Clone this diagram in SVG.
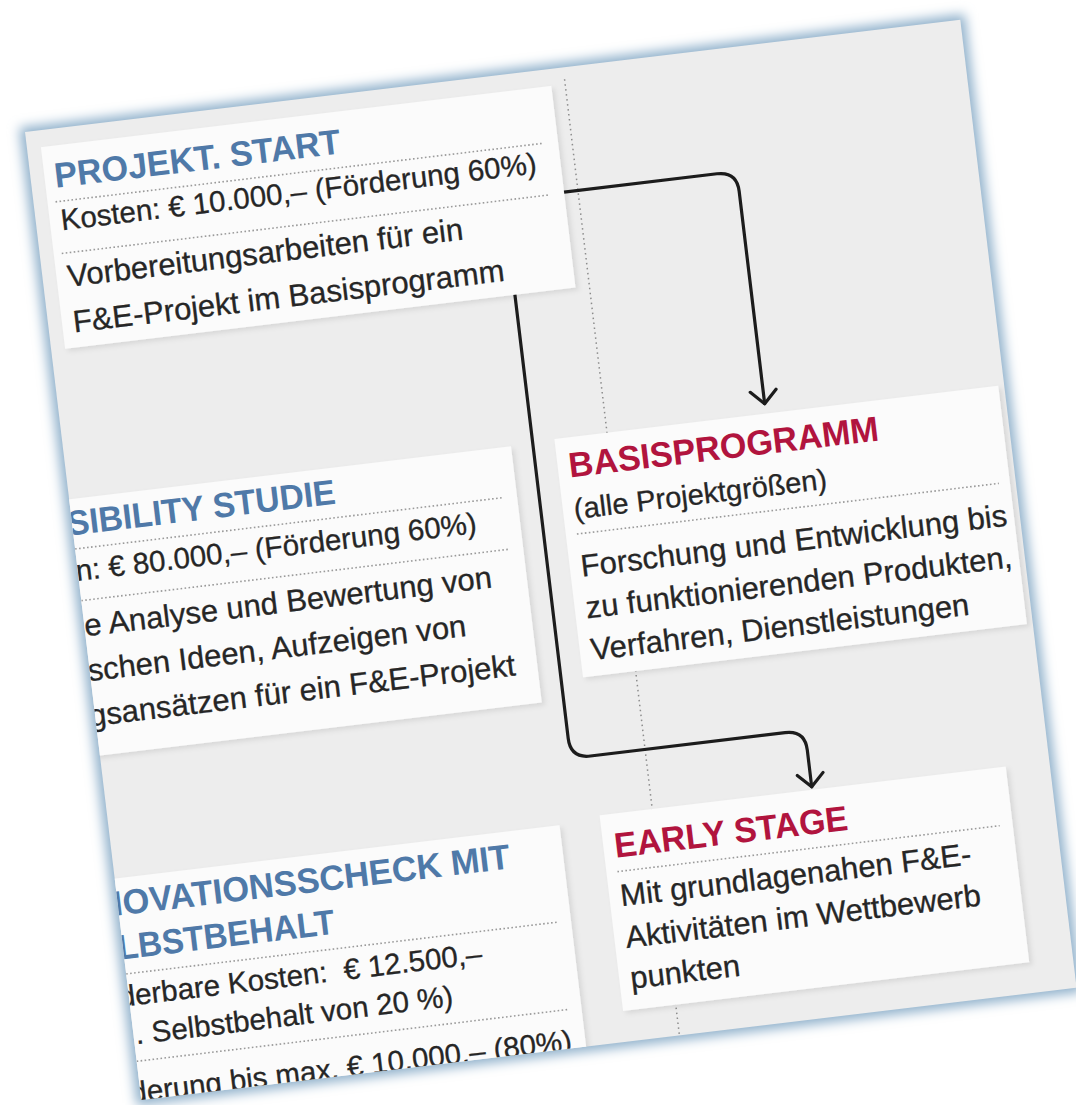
<svg xmlns="http://www.w3.org/2000/svg" width="1076" height="1105" viewBox="0 0 1076 1105">
<defs>
<style>
.page{fill:#ededed}
.box{fill:#fbfbfb;filter:url(#sh)}
.t{font-family:"Liberation Sans",Arial,sans-serif;font-weight:bold;font-size:35px}
.blue{fill:#4f79a8}
.red{fill:#b1143e}
.b{font-family:"Liberation Sans",Arial,sans-serif;font-size:31px;fill:#262626;stroke:#262626;stroke-width:0.3}
.c{font-size:29.5px}
.sep{stroke:#9a9a9a;stroke-width:1.6;stroke-dasharray:1.6 2.4;fill:none}
.grid{stroke:#8c8c8c;stroke-width:1.5;stroke-dasharray:1.5 3.5;fill:none}
.conn{fill:none;stroke:#1c1c1c;stroke-width:3.2;stroke-linejoin:round;stroke-linecap:round}
</style>
<filter id="glow" x="-5%" y="-5%" width="110%" height="110%"><feGaussianBlur stdDeviation="6"/></filter>
<filter id="sh" x="-5%" y="-5%" width="115%" height="115%"><feDropShadow dx="3" dy="3" stdDeviation="2.5" flood-color="#000" flood-opacity="0.09"/></filter>
<marker id="arr" markerUnits="userSpaceOnUse" markerWidth="40" markerHeight="40" viewBox="-20 -20 40 40" refX="0" refY="0" orient="auto"><path d="M-13,-13 L0,0 L-13,13" fill="none" stroke="#1c1c1c" stroke-width="3.2" stroke-linecap="round" stroke-linejoin="round"/></marker>
<clipPath id="pc"><rect x="0" y="0" width="942" height="975"/></clipPath>
</defs>
<rect x="0" y="0" width="1076" height="1105" fill="#ffffff"/>
<g transform="translate(25 132) rotate(-6.85)">
  <rect x="-5" y="-5" width="952" height="985" fill="#8fb0cb" filter="url(#glow)"/>
  <rect class="page" x="0" y="0" width="942" height="975"/>
  <g clip-path="url(#pc)">
    <line class="grid" x1="542" y1="12" x2="542" y2="975"/>
    <g id="connectors">
      <path class="conn" d="M528,124 H682 Q702,124 702,144 V358" marker-end="url(#arr)"/>
      <path class="conn" d="M467,220 V667 Q467,687 487,687 H683 Q703,687 703,707 V744" marker-end="url(#arr)"/>
    </g>
    <g id="projekt-start">
      <rect class="box" x="14" y="17" width="514" height="203"/>
      <text class="t blue" x="24" y="59" textLength="288" lengthAdjust="spacingAndGlyphs">PROJEKT. START</text>
      <line class="sep" x1="22" y1="73" x2="512" y2="73"/>
      <text class="b c" x="25" y="102">Kosten: € 10.000,– (Förderung 60%)</text>
      <line class="sep" x1="22" y1="125" x2="512" y2="125"/>
      <text class="b" x="25" y="159">Vorbereitungsarbeiten für ein</text>
      <text class="b" x="25" y="205">F&amp;E-Projekt im Basisprogramm</text>
    </g>
    <g id="feasibility-studie">
      <rect class="box" x="-20" y="370" width="465" height="258"/>
      <text class="t blue" x="-5" y="406" textLength="270" lengthAdjust="spacingAndGlyphs">SIBILITY STUDIE</text>
      <line class="sep" x1="0" y1="420" x2="432" y2="420"/>
      <text class="b c" x="-2" y="452">n: € 80.000,– (Förderung 60%)</text>
      <line class="sep" x1="0" y1="472" x2="432" y2="472"/>
      <text class="b" x="0" y="508">e Analyse und Bewertung von</text>
      <text class="b" x="-2" y="553">schen Ideen, Aufzeigen von</text>
      <text class="b" x="-6" y="598">gsansätzen für ein F&amp;E-Projekt</text>
    </g>
    <g id="basisprogramm">
      <rect class="box" x="489" y="368" width="447" height="240"/>
      <text class="t red" x="500" y="408" textLength="312" lengthAdjust="spacingAndGlyphs">BASISPROGRAMM</text>
      <text class="b" x="500" y="450" style="font-size:29px">(alle Projektgrößen)</text>
      <line class="sep" x1="500" y1="465" x2="925" y2="465"/>
      <text class="b" x="500" y="508">Forschung und Entwicklung bis</text>
      <text class="b" x="500" y="550">zu funktionierenden Produkten,</text>
      <text class="b" x="500" y="592">Verfahren, Dienstleistungen</text>
    </g>
    <g id="early-stage">
      <rect class="box" x="489" y="747" width="409" height="197"/>
      <text class="t red" x="500" y="791" textLength="235" lengthAdjust="spacingAndGlyphs">EARLY STAGE</text>
      <line class="sep" x1="500" y1="805" x2="885" y2="805"/>
      <text class="b" x="500" y="840">Mit grundlagenahen F&amp;E-</text>
      <text class="b" x="500" y="882">Aktivitäten im Wettbewerb</text>
      <text class="b" x="500" y="923">punkten</text>
    </g>
    <g id="innovationsscheck">
      <rect class="box" x="-20" y="752" width="468" height="260"/>
      <text class="t blue" x="-20" y="789" textLength="415" lengthAdjust="spacingAndGlyphs">NOVATIONSSCHECK MIT</text>
      <text class="t blue" x="-5" y="833" textLength="218" lengthAdjust="spacingAndGlyphs">LBSTBEHALT</text>
      <line class="sep" x1="0" y1="848" x2="435" y2="848"/>
      <text class="b c" x="-10" y="880" xml:space="preserve">derbare Kosten:  € 12.500,–</text>
      <text class="b c" x="2" y="919">. Selbstbehalt von 20 %)</text>
      <line class="sep" x1="0" y1="936" x2="435" y2="936"/>
      <text class="b c" x="-10" y="977">derung bis max. € 10.000,– (80%)</text>
    </g>
  </g>
</g>
</svg>
